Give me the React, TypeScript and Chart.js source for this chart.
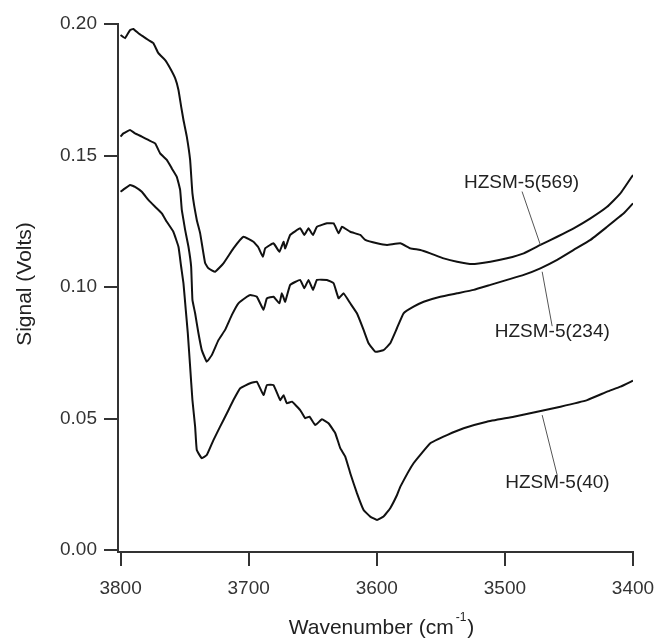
import { useEffect, useRef } from "react";
import { Chart, registerables } from "chart.js";

Chart.register(...registerables);

// ---- Data (wavenumber in cm^-1, signal in volts) ----
const wn569 = [3800, 3796.5, 3792.6, 3790, 3786.1, 3782.2, 3778.3, 3774.4, 3770.5, 3765.2, 3761.3, 3757.4, 3754.8, 3752.7, 3750.9, 3748.3, 3745.7, 3743.9, 3740.5, 3737.9, 3734, 3731.4, 3726.2, 3719.7, 3711.9, 3704.1, 3696.3, 3692.6, 3688.9, 3687.1, 3680.6, 3676, 3672.8, 3671.5, 3667.6, 3659.8, 3656.6, 3653.3, 3649.8, 3646.7, 3638.9, 3633.7, 3629.8, 3627.2, 3620.7, 3612.9, 3609, 3599.8, 3592, 3581.6, 3573.8, 3566, 3558.2, 3547.8, 3537.3, 3525.6, 3511.3, 3498.3, 3485.3, 3472.3, 3459.2, 3446.3, 3433.2, 3420.2, 3409.8, 3400];
const sig569 = [0.1958, 0.1946, 0.1977, 0.1981, 0.1965, 0.1952, 0.1939, 0.1927, 0.1889, 0.1863, 0.1832, 0.1794, 0.1749, 0.1686, 0.1635, 0.1572, 0.1483, 0.1356, 0.1255, 0.1205, 0.1091, 0.1071, 0.1058, 0.109, 0.1147, 0.1191, 0.1172, 0.1152, 0.1115, 0.1147, 0.1166, 0.1134, 0.1172, 0.1147, 0.1198, 0.1223, 0.1198, 0.1223, 0.1198, 0.1229, 0.1242, 0.1242, 0.1204, 0.1229, 0.121, 0.1198, 0.1179, 0.1166, 0.116, 0.1166, 0.1147, 0.1141, 0.1128, 0.1109, 0.1096, 0.1087, 0.1096, 0.1109, 0.1128, 0.116, 0.1191, 0.1223, 0.1261, 0.1305, 0.1356, 0.1426];

const wn234 = [3800, 3797.8, 3792.6, 3788.7, 3783.4, 3778.3, 3773, 3769.1, 3763.9, 3760, 3756.1, 3753.5, 3752.2, 3750.9, 3749.6, 3747, 3744.9, 3743.9, 3741.8, 3739.2, 3736.6, 3732.7, 3728.8, 3723.6, 3718.4, 3713.1, 3708, 3701.4, 3698.8, 3693.6, 3688.4, 3685.8, 3680.6, 3676, 3674.1, 3671.5, 3667.6, 3659.8, 3656.6, 3653.3, 3649.8, 3646.7, 3638.9, 3633.7, 3629.8, 3625.9, 3620.7, 3615.5, 3610.3, 3606.4, 3601.2, 3594.7, 3589.5, 3584.2, 3579.1, 3571.3, 3563.4, 3550.4, 3537.3, 3524.4, 3511.3, 3498.3, 3485.3, 3472.3, 3459.2, 3446.3, 3433.2, 3420.2, 3407.2, 3400];
const sig234 = [0.1572, 0.1584, 0.1597, 0.1584, 0.1572, 0.1559, 0.1546, 0.1508, 0.1483, 0.1451, 0.1419, 0.1369, 0.1293, 0.1255, 0.1217, 0.1153, 0.1077, 0.0951, 0.09, 0.0824, 0.076, 0.0716, 0.0741, 0.0798, 0.0837, 0.0894, 0.0938, 0.0963, 0.097, 0.0963, 0.0913, 0.0957, 0.0963, 0.0938, 0.0976, 0.0944, 0.1008, 0.1027, 0.0995, 0.1027, 0.0989, 0.1027, 0.1027, 0.1014, 0.0957, 0.0976, 0.0938, 0.09, 0.0837, 0.0786, 0.0754, 0.076, 0.0786, 0.0844, 0.09, 0.0925, 0.0944, 0.0963, 0.0976, 0.0989, 0.1008, 0.1027, 0.1046, 0.1071, 0.1103, 0.1141, 0.1179, 0.1229, 0.128, 0.1318];

const wn40 = [3800, 3796.5, 3792.6, 3788.7, 3783.4, 3778.3, 3773, 3767.8, 3763.9, 3758.8, 3754.8, 3752.7, 3750.9, 3749.1, 3747.5, 3745.7, 3743.9, 3741.8, 3740.5, 3736.6, 3732.7, 3727.5, 3722.3, 3717, 3711.9, 3706.6, 3698.8, 3693.6, 3688.4, 3685.8, 3680.6, 3675.4, 3672.8, 3670.2, 3666.2, 3659.8, 3655.9, 3652.5, 3648, 3642.8, 3637.7, 3632.4, 3628.5, 3624.6, 3620.7, 3615.5, 3610.3, 3605.1, 3599.8, 3594.7, 3589.5, 3584.2, 3581.6, 3571.3, 3558.2, 3545.2, 3532.2, 3514.1, 3493.1, 3474.8, 3456.6, 3435.8, 3420.2, 3409.8, 3400];
const sig40 = [0.1362, 0.1375, 0.1388, 0.1381, 0.1362, 0.1331, 0.1305, 0.128, 0.1248, 0.121, 0.1153, 0.1077, 0.1014, 0.0913, 0.0824, 0.0697, 0.057, 0.0469, 0.038, 0.0349, 0.0361, 0.0418, 0.0469, 0.052, 0.057, 0.0615, 0.0634, 0.064, 0.0589, 0.0627, 0.0627, 0.057, 0.0589, 0.0558, 0.0564, 0.0532, 0.0501, 0.0507, 0.0475, 0.0497, 0.0482, 0.0444, 0.0387, 0.0355, 0.0292, 0.0216, 0.0152, 0.0127, 0.0114, 0.0127, 0.0159, 0.0209, 0.0241, 0.033, 0.0406, 0.0437, 0.0463, 0.0488, 0.0507, 0.0526, 0.0545, 0.057, 0.0602, 0.0621, 0.0644];

const xTicks = [3800, 3700, 3600, 3500, 3400];
const yTicks = [0, 0.05, 0.1, 0.15, 0.2];

const seriesNames = ["HZSM-5(569)", "HZSM-5(234)", "HZSM-5(40)"];
// label anchor (data units) and leader line endpoints (data units)
const labelX = [3487, 3463, 3459];
const labelY = [0.1395, 0.0829, 0.0255];
const leaderFromX = [3486.6, 3470.9, 3470.9];
const leaderFromY = [0.1363, 0.1058, 0.0513];
const leaderToX = [3472.3, 3463.1, 3459.2];
const leaderToY = [0.116, 0.0851, 0.0285];

const FONT = "'Liberation Sans', Arial, Helvetica, sans-serif";

const toPts = (xs: number[], ys: number[]) => xs.map((x, i) => ({ x, y: ys[i] }));

const annotPlugin = {
  id: "annot",
  afterDraw(chart: any) {
    const { ctx, scales, chartArea } = chart;
    const xs = scales.x;
    const ys = scales.y;
    ctx.save();
    // leader lines
    ctx.strokeStyle = "#555";
    ctx.lineWidth = 1;
    for (let i = 0; i < seriesNames.length; i++) {
      ctx.beginPath();
      ctx.moveTo(xs.getPixelForValue(leaderFromX[i]), ys.getPixelForValue(leaderFromY[i]));
      ctx.lineTo(xs.getPixelForValue(leaderToX[i]), ys.getPixelForValue(leaderToY[i]));
      ctx.stroke();
    }
    // labels
    ctx.fillStyle = "#222";
    ctx.font = `19px ${FONT}`;
    ctx.textAlign = "center";
    ctx.textBaseline = "middle";
    for (let i = 0; i < seriesNames.length; i++) {
      ctx.fillText(seriesNames[i], xs.getPixelForValue(labelX[i]), ys.getPixelForValue(labelY[i]));
    }
    // y title
    ctx.save();
    ctx.font = `21px ${FONT}`;
    ctx.translate(25, 284);
    ctx.rotate(-Math.PI / 2);
    ctx.fillText("Signal (Volts)", 0, 0);
    ctx.restore();
    // x title with superscript
    const main = "Wavenumber (cm";
    const sup = "-1";
    const close = ")";
    ctx.font = `21px ${FONT}`;
    const w1 = ctx.measureText(main).width;
    const w3 = ctx.measureText(close).width;
    ctx.font = `12px ${FONT}`;
    const w2 = ctx.measureText(sup).width;
    const total = w1 + w2 + w3 + 3;
    const x0 = (chartArea.left + chartArea.right) / 2 + 6 - total / 2;
    const base = 634;
    ctx.textAlign = "left";
    ctx.textBaseline = "alphabetic";
    ctx.font = `21px ${FONT}`;
    ctx.fillText(main, x0, base);
    ctx.font = `12px ${FONT}`;
    ctx.fillText(sup, x0 + w1 + 2, base - 13);
    ctx.font = `21px ${FONT}`;
    ctx.fillText(close, x0 + w1 + w2 + 3, base);
    ctx.restore();
  },
};

export default function App() {
  const ref = useRef<HTMLCanvasElement | null>(null);
  useEffect(() => {
    if (!ref.current) return;
    const mk = (xs: number[], ys: number[]) => ({
      data: toPts(xs, ys),
      borderColor: "#111",
      borderWidth: 2,
      pointRadius: 0,
      tension: 0.1,
      fill: false,
    });
    const chart = new Chart(ref.current, {
      type: "line",
      data: {
        datasets: [mk(wn569, sig569), mk(wn234, sig234), mk(wn40, sig40)],
      },
      options: {
        animation: false,
        responsive: false,
        maintainAspectRatio: false,
        layout: { padding: { left: 0, right: 24, top: 24, bottom: 0 } },
        plugins: { legend: { display: false }, tooltip: { enabled: false } },
        scales: {
          x: {
            type: "linear",
            reverse: true,
            min: 3400,
            max: 3802,
            afterBuildTicks: (s: any) => {
              s.ticks = xTicks.map((v) => ({ value: v }));
            },
            afterFit: (s: any) => {
              s.height = 87;
              s.paddingLeft = 0;
              s.paddingRight = 0;
            },
            grid: { drawOnChartArea: false, drawTicks: true, tickLength: 14, color: "#333", lineWidth: 2 },
            border: { display: true, color: "#333", width: 2 },
            ticks: {
              color: "#333",
              padding: 11,
              font: { family: FONT, size: 19 },
              callback: (v: any) => String(v),
              maxRotation: 0,
              autoSkip: false,
            },
          },
          y: {
            type: "linear",
            min: -0.00076,
            max: 0.2,
            afterBuildTicks: (s: any) => {
              s.ticks = yTicks.map((v) => ({ value: v }));
            },
            afterFit: (s: any) => {
              s.width = 118;
              s.paddingTop = 0;
              s.paddingBottom = 0;
            },
            grid: { drawOnChartArea: false, drawTicks: true, tickLength: 14, color: "#333", lineWidth: 2 },
            border: { display: true, color: "#333", width: 2 },
            ticks: {
              color: "#333",
              padding: 7,
              font: { family: FONT, size: 19 },
              callback: (v: any) => Number(v).toFixed(2),
              autoSkip: false,
            },
          },
        },
      },
      plugins: [annotPlugin],
    });
    return () => chart.destroy();
  }, []);
  return (
    <div style={{ position: "fixed", left: 0, top: 0, width: 657, height: 639, background: "#fff" }}>
      <canvas ref={ref} width={657} height={639} style={{ width: 657, height: 639, display: "block" }} />
    </div>
  );
}
